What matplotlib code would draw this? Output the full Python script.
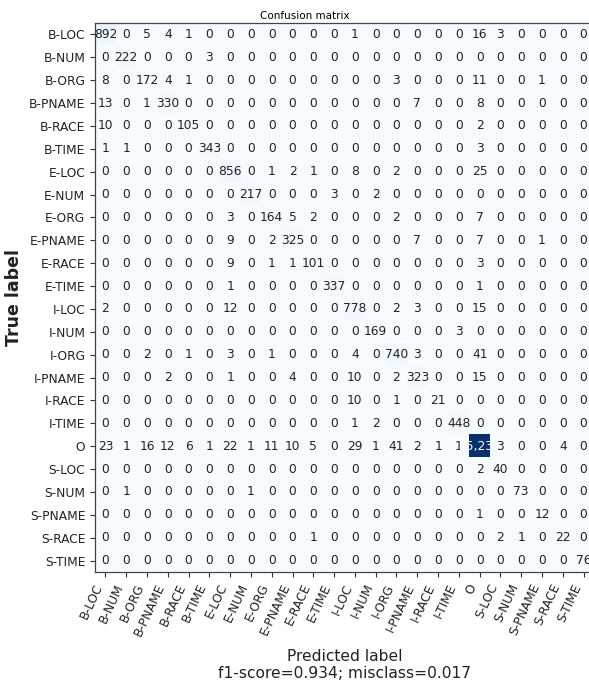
import numpy as np
import matplotlib
matplotlib.use("Agg")
import matplotlib.pyplot as plt

labels = ["B-LOC", "B-NUM", "B-ORG", "B-PNAME", "B-RACE", "B-TIME",
          "E-LOC", "E-NUM", "E-ORG", "E-PNAME", "E-RACE", "E-TIME",
          "I-LOC", "I-NUM", "I-ORG", "I-PNAME", "I-RACE", "I-TIME",
          "O", "S-LOC", "S-NUM", "S-PNAME", "S-RACE", "S-TIME"]

# confusion counts, one list per true label (columns follow `labels`)
row_b_loc   = [892, 0, 5, 4, 1, 0, 0, 0, 0, 0, 0, 0, 1, 0, 0, 0, 0, 0, 16, 3, 0, 0, 0, 0]
row_b_num   = [0, 222, 0, 0, 0, 3, 0, 0, 0, 0, 0, 0, 0, 0, 0, 0, 0, 0, 0, 0, 0, 0, 0, 0]
row_b_org   = [8, 0, 172, 4, 1, 0, 0, 0, 0, 0, 0, 0, 0, 0, 3, 0, 0, 0, 11, 0, 0, 1, 0, 0]
row_b_pname = [13, 0, 1, 330, 0, 0, 0, 0, 0, 0, 0, 0, 0, 0, 0, 7, 0, 0, 8, 0, 0, 0, 0, 0]
row_b_race  = [10, 0, 0, 0, 105, 0, 0, 0, 0, 0, 0, 0, 0, 0, 0, 0, 0, 0, 2, 0, 0, 0, 0, 0]
row_b_time  = [1, 1, 0, 0, 0, 343, 0, 0, 0, 0, 0, 0, 0, 0, 0, 0, 0, 0, 3, 0, 0, 0, 0, 0]
row_e_loc   = [0, 0, 0, 0, 0, 0, 856, 0, 1, 2, 1, 0, 8, 0, 2, 0, 0, 0, 25, 0, 0, 0, 0, 0]
row_e_num   = [0, 0, 0, 0, 0, 0, 0, 217, 0, 0, 0, 3, 0, 2, 0, 0, 0, 0, 0, 0, 0, 0, 0, 0]
row_e_org   = [0, 0, 0, 0, 0, 0, 3, 0, 164, 5, 2, 0, 0, 0, 2, 0, 0, 0, 7, 0, 0, 0, 0, 0]
row_e_pname = [0, 0, 0, 0, 0, 0, 9, 0, 2, 325, 0, 0, 0, 0, 0, 7, 0, 0, 7, 0, 0, 1, 0, 0]
row_e_race  = [0, 0, 0, 0, 0, 0, 9, 0, 1, 1, 101, 0, 0, 0, 0, 0, 0, 0, 3, 0, 0, 0, 0, 0]
row_e_time  = [0, 0, 0, 0, 0, 0, 1, 0, 0, 0, 0, 337, 0, 0, 0, 0, 0, 0, 1, 0, 0, 0, 0, 0]
row_i_loc   = [2, 0, 0, 0, 0, 0, 12, 0, 0, 0, 0, 0, 778, 0, 2, 3, 0, 0, 15, 0, 0, 0, 0, 0]
row_i_num   = [0, 0, 0, 0, 0, 0, 0, 0, 0, 0, 0, 0, 0, 169, 0, 0, 0, 3, 0, 0, 0, 0, 0, 0]
row_i_org   = [0, 0, 2, 0, 1, 0, 3, 0, 1, 0, 0, 0, 4, 0, 740, 3, 0, 0, 41, 0, 0, 0, 0, 0]
row_i_pname = [0, 0, 0, 2, 0, 0, 1, 0, 0, 4, 0, 0, 10, 0, 2, 323, 0, 0, 15, 0, 0, 0, 0, 0]
row_i_race  = [0, 0, 0, 0, 0, 0, 0, 0, 0, 0, 0, 0, 10, 0, 1, 0, 21, 0, 0, 0, 0, 0, 0, 0]
row_i_time  = [0, 0, 0, 0, 0, 0, 0, 0, 0, 0, 0, 0, 1, 2, 0, 0, 0, 448, 0, 0, 0, 0, 0, 0]
row_o       = [23, 1, 16, 12, 6, 1, 22, 1, 11, 10, 5, 0, 29, 1, 41, 2, 1, 1, 25234, 3, 0, 0, 4, 0]
row_s_loc   = [0, 0, 0, 0, 0, 0, 0, 0, 0, 0, 0, 0, 0, 0, 0, 0, 0, 0, 2, 40, 0, 0, 0, 0]
row_s_num   = [0, 1, 0, 0, 0, 0, 0, 1, 0, 0, 0, 0, 0, 0, 0, 0, 0, 0, 0, 0, 73, 0, 0, 0]
row_s_pname = [0, 0, 0, 0, 0, 0, 0, 0, 0, 0, 0, 0, 0, 0, 0, 0, 0, 0, 1, 0, 0, 12, 0, 0]
row_s_race  = [0, 0, 0, 0, 0, 0, 0, 0, 0, 0, 1, 0, 0, 0, 0, 0, 0, 0, 0, 2, 1, 0, 22, 0]
row_s_time  = [0, 0, 0, 0, 0, 0, 0, 0, 0, 0, 0, 0, 0, 0, 0, 0, 0, 0, 0, 0, 0, 0, 0, 76]

f1_score = 0.934
misclass = 0.017

cm = np.array([row_b_loc, row_b_num, row_b_org, row_b_pname, row_b_race, row_b_time,
               row_e_loc, row_e_num, row_e_org, row_e_pname, row_e_race, row_e_time,
               row_i_loc, row_i_num, row_i_org, row_i_pname, row_i_race, row_i_time,
               row_o, row_s_loc, row_s_num, row_s_pname, row_s_race, row_s_time])

W, H = 589, 691
fig = plt.figure(figsize=(W / 100, H / 100), dpi=100)
ax = fig.add_axes([95 / W, (H - 572) / H, 499 / W, 549 / H])

ax.imshow(cm, interpolation="nearest", cmap="Blues", aspect="auto")
ax.set_title("Confusion matrix", fontsize=7.5, x=0.42, pad=3)

ticks = np.arange(len(labels))
ax.set_xticks(ticks)
ax.set_xticklabels(labels, rotation=65, ha="right", fontsize=8.8)
ax.set_yticks(ticks)
ax.set_yticklabels(labels, fontsize=8.8)
ax.tick_params(length=3.5, width=0.8, colors="#333333", labelcolor="#222222")

thresh = cm.max() / 2
for i in range(cm.shape[0]):
    for j in range(cm.shape[1]):
        ax.text(j, i, "{:,}".format(cm[i, j]), ha="center", va="center",
                fontsize=8.8, color="white" if cm[i, j] > thresh else "#222222")

for s in ax.spines.values():
    s.set_color("#444444")
    s.set_linewidth(0.9)

ax.set_ylabel("True label", fontsize=12.5, fontweight="bold", color="#222222", labelpad=4)
ax.set_xlabel("Predicted label\nf1-score={:0.3f}; misclass={:0.3f}".format(f1_score, misclass),
              fontsize=11.2, color="#222222", labelpad=8, linespacing=1.1)

fig.savefig("out.png", dpi=100, facecolor="white")
